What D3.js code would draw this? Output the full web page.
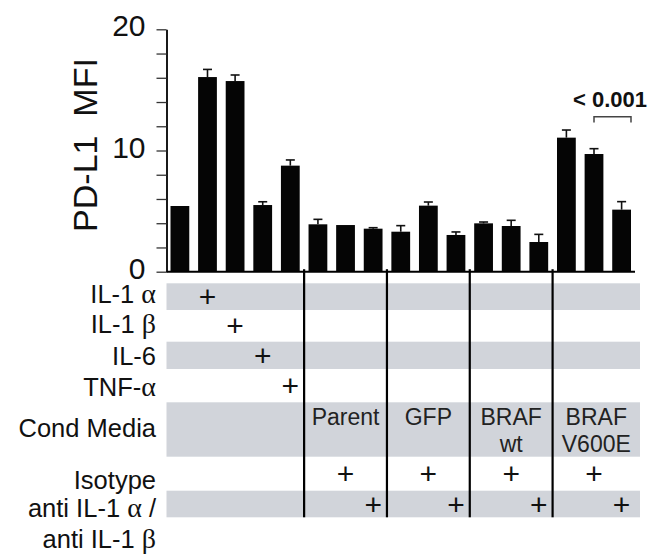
<!DOCTYPE html>
<html>
<head>
<meta charset="utf-8">
<script src="https://cdn.jsdelivr.net/npm/d3@7"></script>
<style>
  html, body { margin: 0; padding: 0; background: #fff; }
  svg { display: block; font-family: "Liberation Sans", Arial, Helvetica, sans-serif; }
  .greek { font-family: "Liberation Serif", "DejaVu Serif", serif; }
</style>
</head>
<body>
<svg id="chart" width="649" height="556"></svg>
<script>
// ── Data ─────────────────────────────────────────────────────────────
const mfi    = [5.42, 16.06, 15.73, 5.5, 8.75, 3.91, 3.85, 3.55, 3.3, 5.45, 3.03, 3.99, 3.77, 2.45, 11.06, 9.71, 5.12];
const mfiErr = [0, 0.63, 0.5, 0.27, 0.47, 0.41, 0, 0.08, 0.5, 0.3, 0.25, 0.11, 0.47, 0.63, 0.63, 0.44, 0.66];
const yTicks = [0, 2, 4, 6, 8, 10, 12, 14, 16, 18, 20];
const yLabels = [0, 10, 20];

// table rows: label parts ([text, isGreek]) and which bars get a "+"
const rowLabels = [
  [['IL-1 ', 0], ['α', 1]],
  [['IL-1 ', 0], ['β', 1]],
  [['IL-6', 0]],
  [['TNF-', 0], ['α', 1]],
  [['Cond Media', 0]],
  [['Isotype', 0]],
  [['anti IL-1 ', 0], ['α', 1], [' /', 0]],
  [['anti IL-1 ', 0], ['β', 1]],
];
const plusBars = [[1], [2], [3], [4], [], [6, 9, 12, 15], [7, 10, 13, 16]];
const condGroups = [
  { lines: ['Parent'],         bars: [5, 6, 7] },
  { lines: ['GFP'],            bars: [8, 9, 10] },
  { lines: ['BRAF', 'wt'],     bars: [11, 12, 13] },
  { lines: ['BRAF', 'V600E'],  bars: [14, 15, 16] },
];
const sigLabel = '< 0.001';
const sigBars  = [15, 16];

// ── Layout ───────────────────────────────────────────────────────────
const AX_X = 166.5, X_END = 635, Y_TOP = 29.3, Y_BASE = 271.7;
const ROW_EDGES = [283.3, 310, 341.7, 369, 402.3, 456.7, 490.7, 517.3];
const LABEL_Y   = [302.5, 333, 364.5, 395.5, 437, 489, 517, 548];
const TABLE_END = 640;
const GRAY = '#d1d4da';

const svg = d3.select('#chart');

const x = d3.scaleBand()
  .domain(d3.range(mfi.length))
  .range([AX_X, X_END])
  .paddingInner(0.32)
  .paddingOuter(0.145);

const y = d3.scaleLinear().domain([0, 20]).range([Y_BASE, Y_TOP]);

// ── Table background stripes ─────────────────────────────────────────
const rows = d3.range(ROW_EDGES.length - 1);
svg.append('g').selectAll('rect')
  .data(rows.filter(i => i % 2 === 0))
  .join('rect')
    .attr('x', AX_X)
    .attr('y', i => ROW_EDGES[i])
    .attr('width', TABLE_END - AX_X)
    .attr('height', i => ROW_EDGES[i + 1] - ROW_EDGES[i])
    .attr('fill', GRAY);

// ── Bars ─────────────────────────────────────────────────────────────
svg.append('g').selectAll('rect')
  .data(mfi)
  .join('rect')
    .attr('x', (d, i) => x(i))
    .attr('y', d => y(d))
    .attr('width', x.bandwidth())
    .attr('height', d => Y_BASE - y(d))
    .attr('fill', '#050505');

// error bars (upper only)
const errG = svg.append('g').attr('stroke', '#111').attr('stroke-width', 1.6);
mfi.forEach((d, i) => {
  if (!mfiErr[i]) return;
  const cx = x(i) + x.bandwidth() / 2;
  errG.append('line')
    .attr('x1', cx).attr('x2', cx)
    .attr('y1', y(d)).attr('y2', y(d + mfiErr[i]));
  errG.append('line')
    .attr('x1', cx - 4.5).attr('x2', cx + 4.5)
    .attr('y1', y(d + mfiErr[i])).attr('y2', y(d + mfiErr[i]));
});

// ── Axes ─────────────────────────────────────────────────────────────
const yAxis = svg.append('g')
  .attr('transform', `translate(${AX_X},0)`)
  .call(d3.axisLeft(y)
    .tickValues(yTicks)
    .tickSize(10)
    .tickSizeOuter(0)
    .tickPadding(11)
    .tickFormat(d => yLabels.includes(d) ? d : ''));
yAxis.select('.domain').attr('stroke', '#000').attr('stroke-width', 1.8);
yAxis.selectAll('.tick line').attr('stroke', '#333').attr('stroke-width', 1.3);
yAxis.selectAll('.tick text')
  .attr('font-family', '"Liberation Sans", Arial, sans-serif')
  .attr('font-size', 30)
  .attr('dy', '0.22em')
  .attr('fill', '#111');

svg.append('line')
  .attr('x1', AX_X).attr('x2', X_END)
  .attr('y1', Y_BASE).attr('y2', Y_BASE)
  .attr('stroke', '#000').attr('stroke-width', 2);

svg.append('text')
  .attr('transform', `translate(97,145) rotate(-90)`)
  .attr('text-anchor', 'middle')
  .attr('font-size', 34)
  .attr('fill', '#111')
  .style('white-space', 'pre')
  .text('PD-L1  MFI');

// ── Significance bracket ─────────────────────────────────────────────
const bx1 = x(sigBars[0]) + x.bandwidth() / 2;
const bx2 = x(sigBars[1]) + x.bandwidth();
svg.append('path')
  .attr('d', `M${bx1},122.5V116.7H${bx2}V122.5`)
  .attr('fill', 'none')
  .attr('stroke', '#444')
  .attr('stroke-width', 1.5);
svg.append('text')
  .attr('x', 647).attr('y', 106.5)
  .attr('text-anchor', 'end')
  .attr('font-size', 22)
  .attr('font-weight', 'bold')
  .attr('fill', '#111')
  .text(sigLabel);

// ── Table: row labels ────────────────────────────────────────────────
svg.append('g').selectAll('text')
  .data(rowLabels)
  .join('text')
    .attr('x', 156)
    .attr('y', (d, i) => LABEL_Y[i])
    .attr('text-anchor', 'end')
    .attr('font-size', 25.5)
    .attr('fill', '#111')
    .style('white-space', 'pre')
    .each(function(parts) {
      d3.select(this).selectAll('tspan')
        .data(parts)
        .join('tspan')
          .attr('class', p => p[1] ? 'greek' : null)
          .attr('font-size', p => p[1] ? 28 : null)
          .text(p => p[0]);
    });

// plus marks
const plusG = svg.append('g')
  .attr('font-size', 30)
  .attr('text-anchor', 'middle')
  .attr('fill', '#111');
plusBars.forEach((bars, r) => {
  const cy = (ROW_EDGES[r] + ROW_EDGES[r + 1]) / 2;
  plusG.selectAll(null)
    .data(bars)
    .join('text')
      .attr('x', i => x(i) + x.bandwidth() / 2)
      .attr('y', cy + 10.5)
      .text('+');
});

// conditioned media group labels
const gap = x.step() - x.bandwidth();
condGroups.forEach(g => {
  const gx0 = x(g.bars[0]) - gap / 2;
  const gx1 = g.bars[g.bars.length - 1] === mfi.length - 1 ? TABLE_END : x(g.bars[g.bars.length - 1]) + x.bandwidth() + gap / 2;
  svg.append('text')
    .attr('x', (gx0 + gx1) / 2)
    .attr('text-anchor', 'middle')
    .attr('font-size', 23)
    .attr('fill', '#222')
    .selectAll('tspan')
    .data(g.lines)
    .join('tspan')
      .attr('x', (gx0 + gx1) / 2)
      .attr('y', (d, i) => 425 + i * 26.7)
      .text(d => d);
});

// group separators
svg.append('g').selectAll('line')
  .data(condGroups.map(g => g.bars[0]))
  .join('line')
    .attr('x1', i => x(i) - gap / 2)
    .attr('x2', i => x(i) - gap / 2)
    .attr('y1', Y_BASE - 2.5)
    .attr('y2', ROW_EDGES[ROW_EDGES.length - 1])
    .attr('stroke', '#000')
    .attr('stroke-width', 2.2);
</script>
</body>
</html>
